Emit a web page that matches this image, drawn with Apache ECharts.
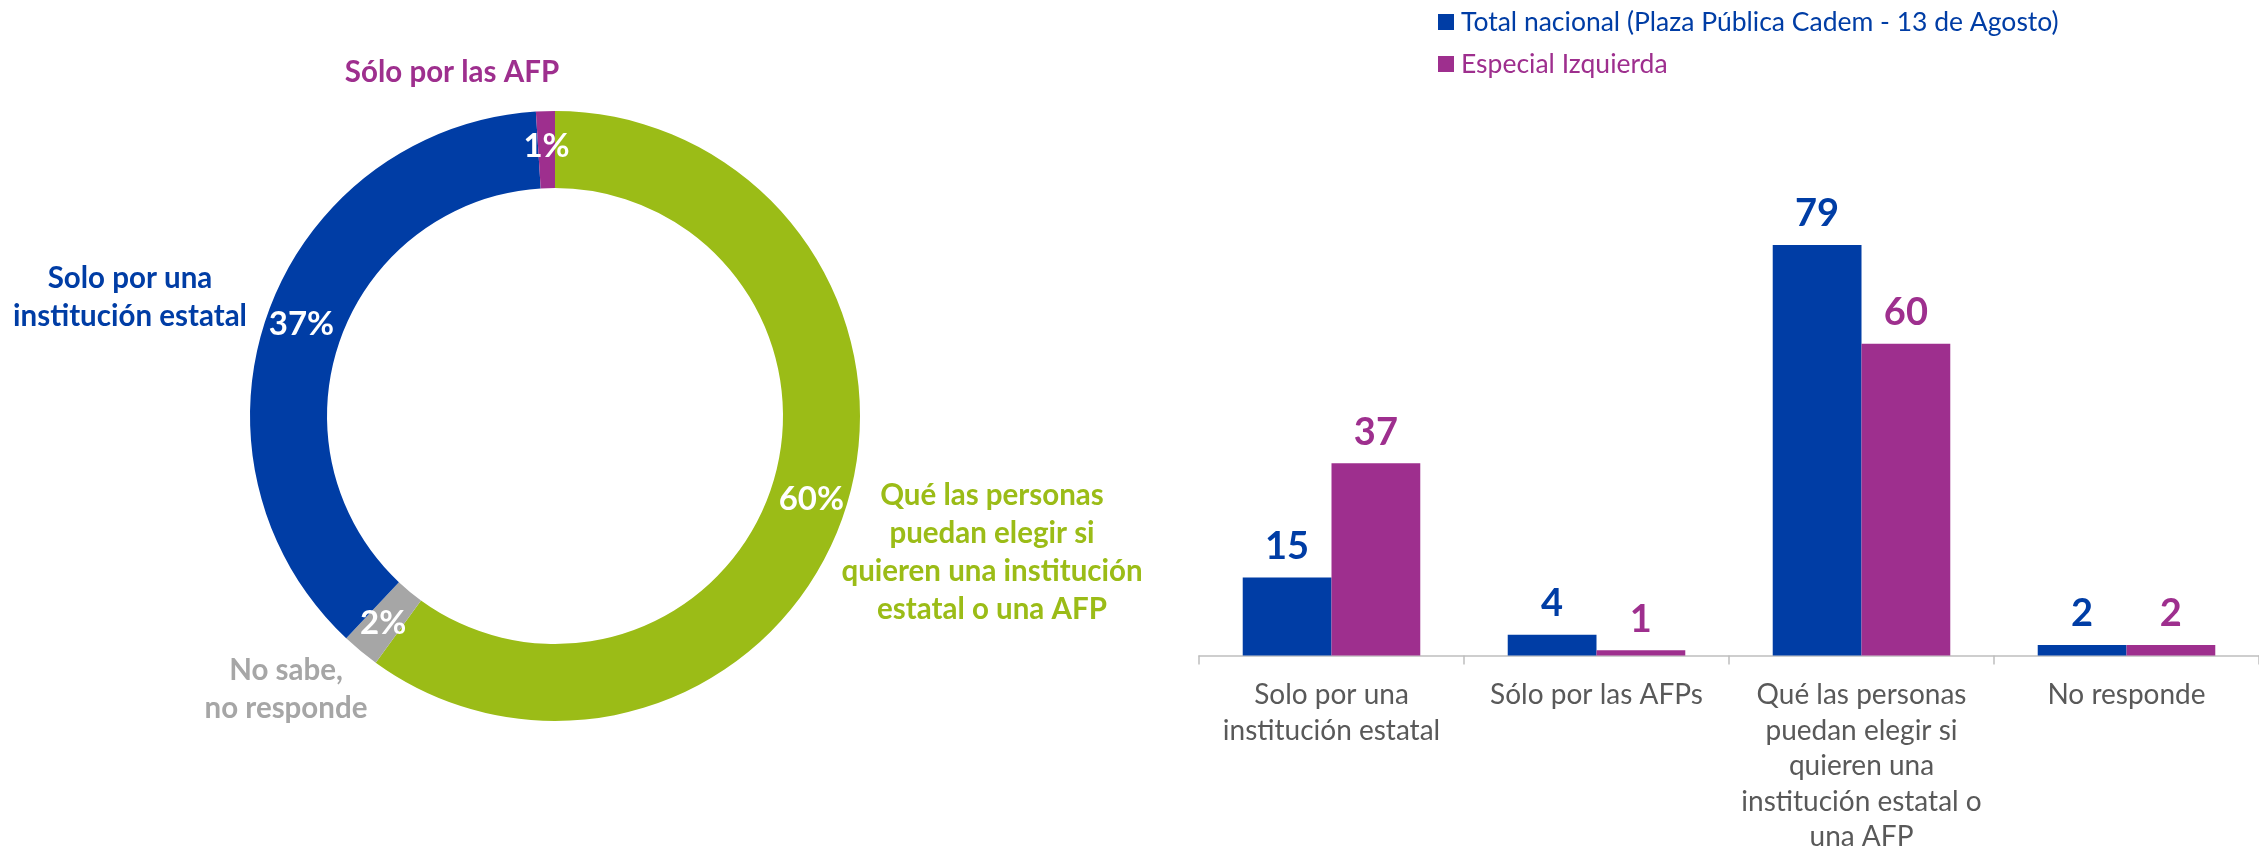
<!DOCTYPE html>
<html>
<head>
<meta charset="utf-8">
<script src="https://cdn.jsdelivr.net/npm/echarts@6/dist/echarts.min.js"></script>
<style>
  html, body { margin: 0; padding: 0; background: #fff; }
  #chart { width: 2259px; height: 855px; }
</style>
</head>
<body>
<div id="chart"></div>
<script>
// donut (left)
const pieNames = ["Qué las personas puedan elegir", "No sabe, no responde", "Solo por una institución estatal", "Sólo por las AFP"]
const pieValues = [60, 2, 37, 1]
const pieColors = ["#9BBC17", "#A6A6A6", "#003DA5", "#9E2F8E"]
const pieCaptions = [
  "Qué las personas\npuedan elegir si\nquieren una institución\nestatal o una AFP",
  "No sabe,\nno responde",
  "Solo por una\ninstitución estatal",
  "Sólo por las AFP"
]

// bars (right)
const barCategories = [
  "Solo por una\ninstitución estatal",
  "Sólo por las AFPs",
  "Qué las personas\npuedan elegir si\nquieren una\ninstitución estatal o\nuna AFP",
  "No responde"
]
const seriesNames = ["Total nacional (Plaza Pública Cadem - 13 de Agosto)", "Especial Izquierda"]
const totalNacional = [15, 4, 79, 2]
const especialIzquierda = [37, 1, 60, 2]
const seriesColors = ["#003DA5", "#9E2F8E"]

const font = "Lato, 'Open Sans', sans-serif"

// where each donut caption sits (centre of the text block)
const captionPos = [[992, 552], [286, 689], [130, 297], [452, 72]]

const myChart = echarts.init(document.getElementById("chart"))

myChart.setOption({
  animation: false,
  textStyle: { fontFamily: font },
  legend: {
    orient: "vertical",
    left: 1438,
    top: 8,
    padding: 0,
    itemWidth: 16,
    itemHeight: 16,
    itemGap: 14,
    icon: "rect",
    selectedMode: false,
    textStyle: { fontSize: 26.5, lineHeight: 28, fontFamily: font, padding: [0, 0, 0, 2] },
    data: seriesNames.map((n, i) => ({ name: n, textStyle: { color: seriesColors[i] } }))
  },
  grid: { left: 1199, right: -6, top: 136, bottom: 194 },
  xAxis: {
    type: "category",
    data: barCategories,
    axisLine: { lineStyle: { color: "#BFBFBF", width: 1.5 } },
    axisTick: { show: true, length: 9, lineStyle: { color: "#BFBFBF", width: 1.5 } },
    axisLabel: { interval: 0, color: "#595959", fontSize: 28, lineHeight: 35.5, margin: 22, fontFamily: font }
  },
  yAxis: { type: "value", min: 0, max: 100, show: false },
  graphic: pieCaptions.map((t, i) => ({
    type: "text",
    x: captionPos[i][0],
    y: captionPos[i][1],
    silent: true,
    style: {
      text: t,
      fill: pieColors[i],
      font: "bold 29.5px " + font,
      lineHeight: 38,
      align: "center",
      verticalAlign: "middle"
    }
  })),
  series: [
    {
      type: "pie",
      silent: true,
      center: [555, 416],
      radius: [228, 305],
      startAngle: 90,
      clockwise: true,
      label: {
        show: true,
        position: "inside",
        formatter: "{c}%",
        color: "#fff",
        fontSize: 33,
        fontWeight: "bold",
        fontFamily: font
      },
      labelLine: { show: false },
      data: pieNames.map((n, i) => ({ name: n, value: pieValues[i], itemStyle: { color: pieColors[i] } }))
    },
    {
      name: seriesNames[0],
      type: "bar",
      barGap: "0%",
      barCategoryGap: "33%",
      itemStyle: { color: seriesColors[0] },
      label: { show: true, position: "top", distance: 12, color: seriesColors[0], fontSize: 38, fontWeight: "bold", fontFamily: font },
      data: totalNacional
    },
    {
      name: seriesNames[1],
      type: "bar",
      itemStyle: { color: seriesColors[1] },
      label: { show: true, position: "top", distance: 12, color: seriesColors[1], fontSize: 38, fontWeight: "bold", fontFamily: font },
      data: especialIzquierda
    }
  ]
})
</script>
</body>
</html>
